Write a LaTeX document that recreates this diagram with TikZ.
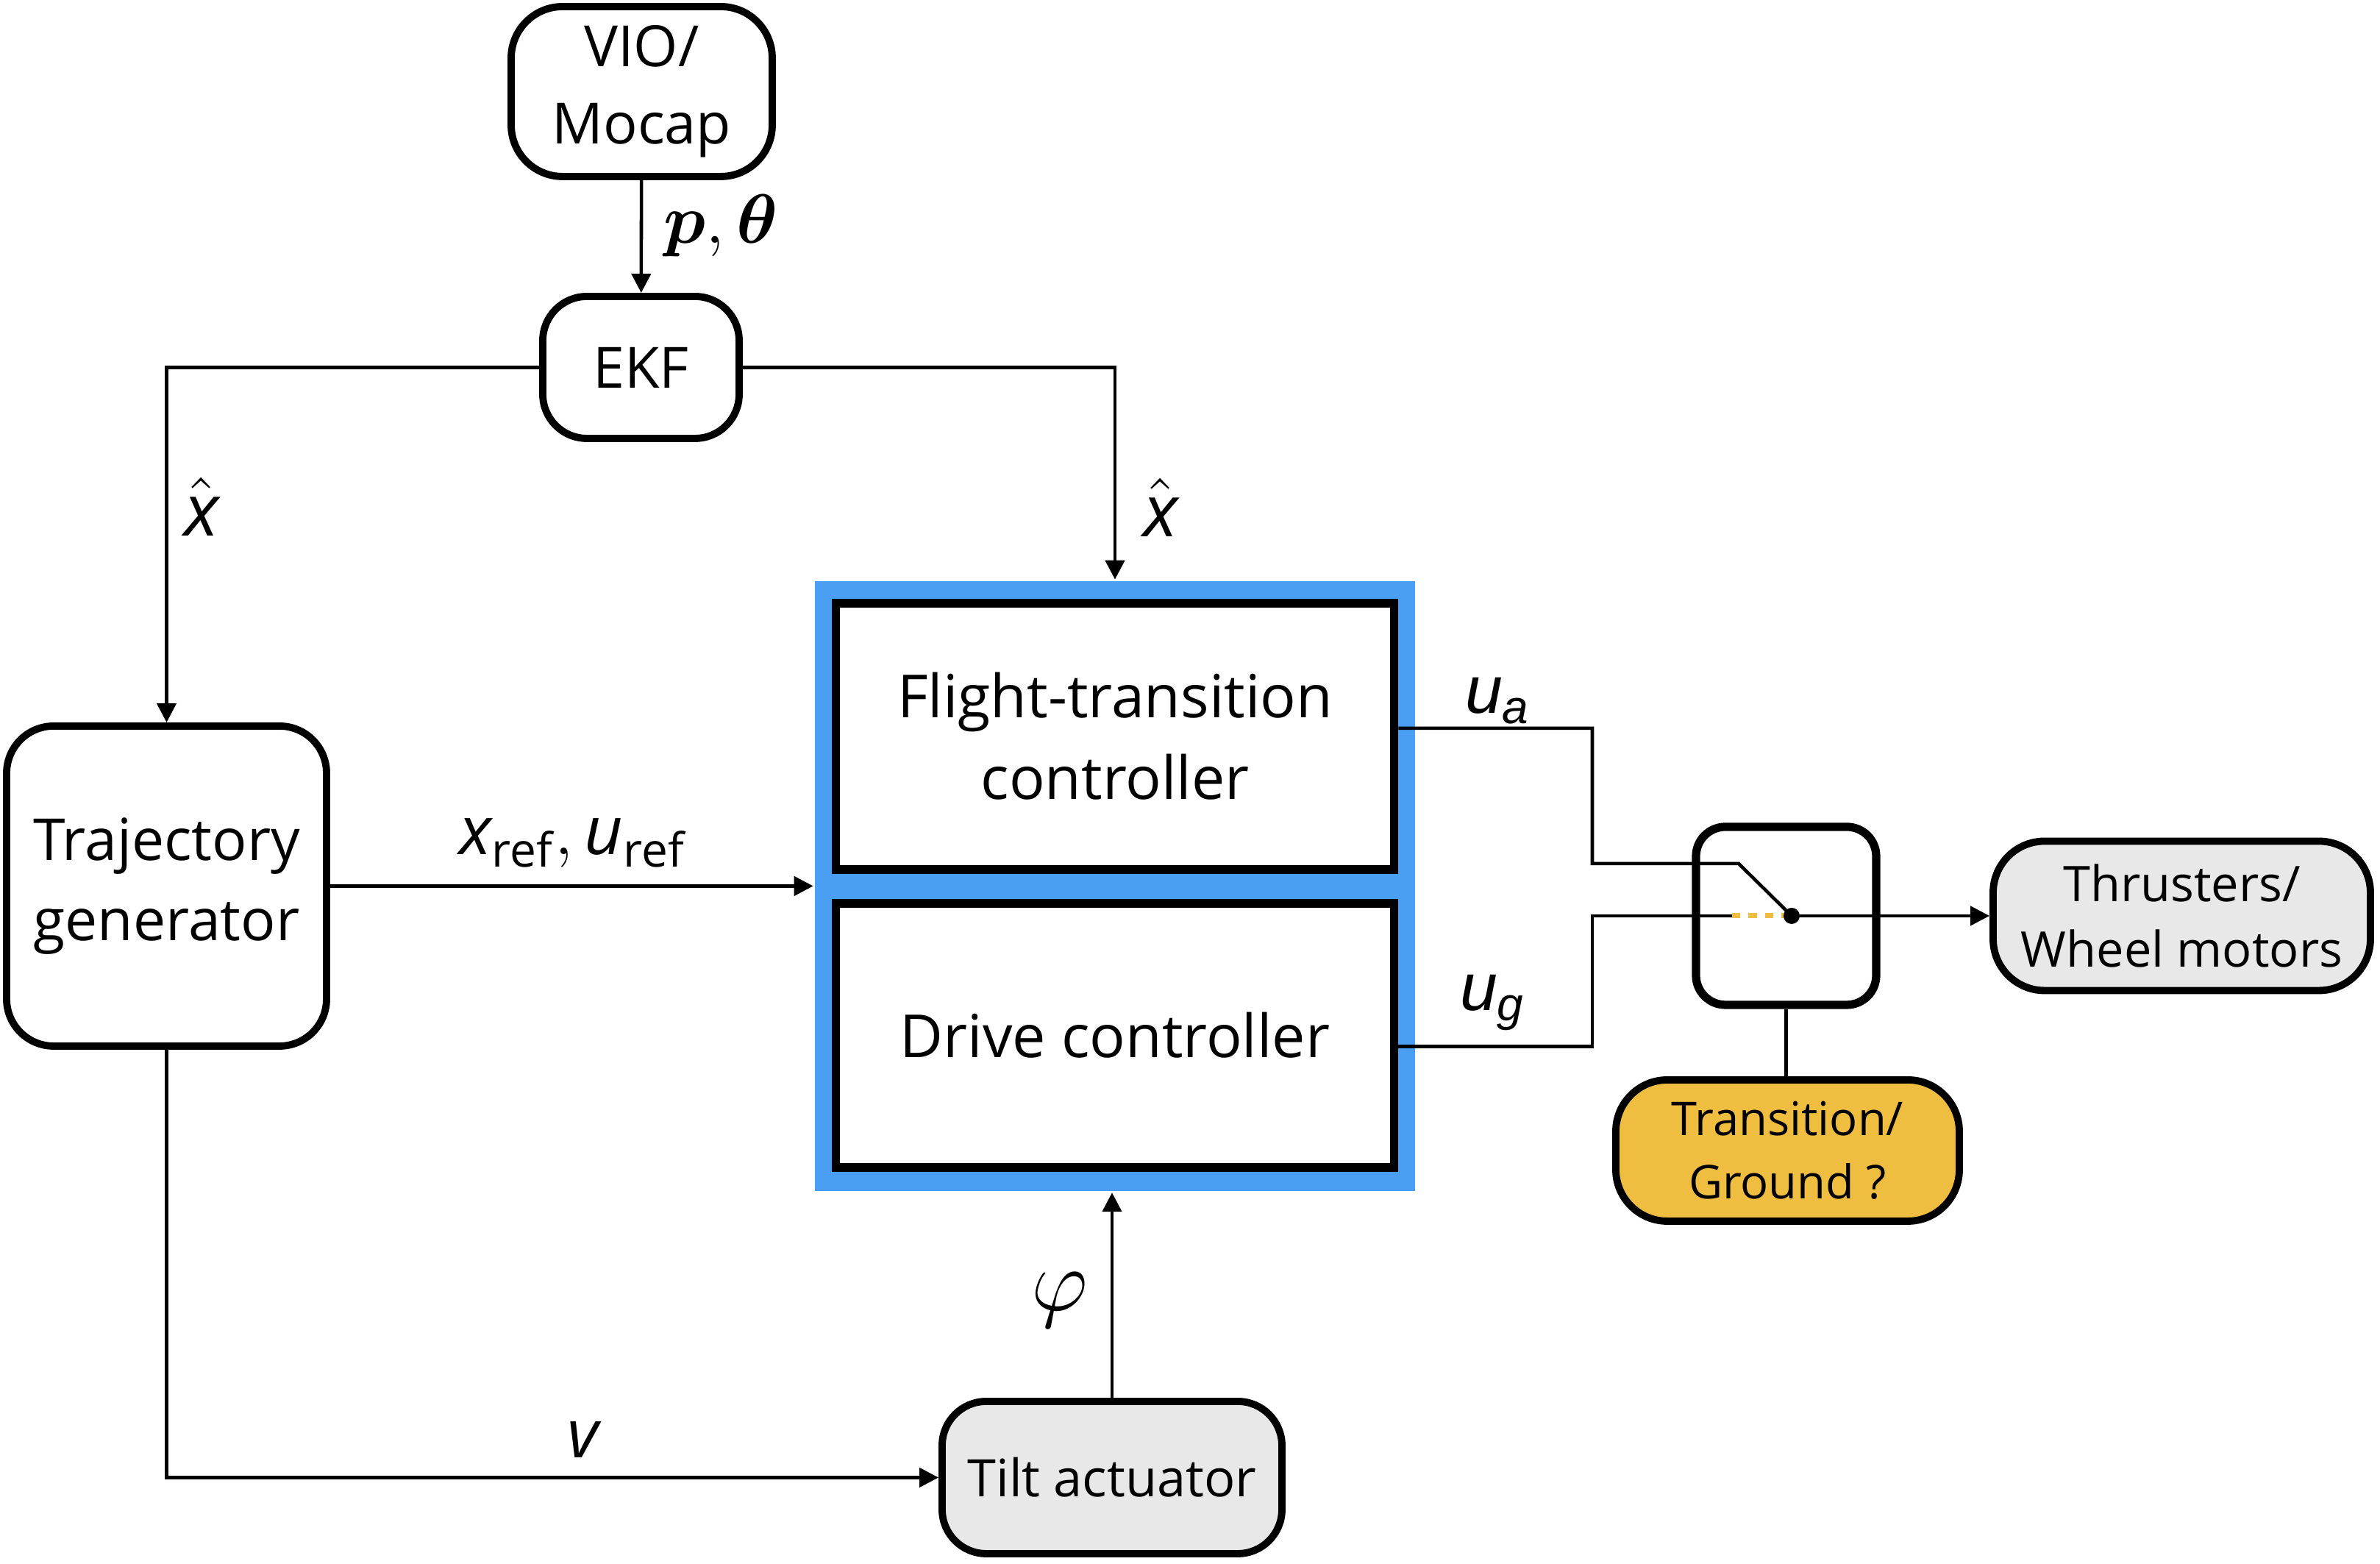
\RequirePackage{fix-cm}
\documentclass[tikz,border=0pt]{standalone}
\usepackage{amsmath}
\usepackage{fontspec}
\setmainfont{Open Sans}
\newfontfamily\arialfont{Liberation Sans}
\usetikzlibrary{arrows.meta}
\definecolor{ctrlblue}{RGB}{74,159,245}
\definecolor{modeyellow}{RGB}{239,189,64}
\definecolor{hwgray}{RGB}{232,232,232}

\begin{document}
\begin{tikzpicture}[x=1cm,y=1cm,>={Triangle[length=.13cm,width=.13cm]},line width=.65pt,
  rbox/.style={draw,line width=1.4pt,rounded corners=.3cm,align=center,inner sep=0pt,fill=white},
  ctrl/.style={draw,line width=1.7pt,fill=white,align=center,inner sep=0pt,minimum width=3.795cm,font=\fontsize{11.5}{15.8}\selectfont},
  lbl/.style={font=\fontsize{13}{15}\selectfont}]
  \useasboundingbox (0,0) rectangle (16.18,10.63);
  % blocks
  \node[rbox,rounded corners=.35cm,minimum width=1.775cm,minimum height=1.155cm,font=\fontsize{11}{15}\selectfont] (vio) at (4.3625,10.0075) {VIO/\\Mocap};
  \node[rbox,minimum width=1.335cm,minimum height=.965cm,font=\fontsize{11}{15}\selectfont] (ekf) at (4.3575,8.1325) {EKF};
  \node[rbox,rounded corners=.32cm,minimum width=2.175cm,minimum height=2.175cm,font=\fontsize{11.2}{15.5}\selectfont] (traj) at (1.1325,4.6075) {Trajectory\\generator};
  \node[fill=ctrlblue,inner sep=0pt,minimum width=4.08cm,minimum height=4.145cm] (ctrlgrp) at (7.58,4.6075) {};
  \node[ctrl,minimum height=1.81cm] (flight) at (7.58,5.625) {Flight-transition\\controller};
  \node[ctrl,minimum height=1.795cm] (drive) at (7.58,3.5925) {Drive controller};
  \node[rbox,fill=hwgray,minimum width=2.31cm,minimum height=1.035cm,font=\fontsize{10}{13}\selectfont] (tilt) at (7.56,.5875) {Tilt actuator};
  \node[draw,line width=1.6pt,rounded corners=.2cm,fill=white,minimum width=1.225cm,minimum height=1.21cm] (sw) at (12.1425,4.405) {};
  \node[rbox,fill=hwgray,rounded corners=.35cm,minimum width=2.565cm,minimum height=1.015cm,font=\fontsize{9.5}{12.6}\selectfont] (thr) at (14.8325,4.405) {Thrusters/\\Wheel motors};
  \node[rbox,fill=modeyellow,rounded corners=.35cm,minimum width=2.335cm,minimum height=.96cm,font=\fontsize{9}{12.2}\selectfont] (mode) at (12.1525,2.81) {Transition/\\Ground ?};
  % switch contacts
  \coordinate (pivot) at (12.18,4.405);
  \coordinate (ja) at (10.825,4.76);
  \coordinate (ka) at (11.82,4.76);
  \coordinate (jg) at (10.825,4.405);
  \coordinate (kg) at (11.775,4.405);
  % signals
  \draw[->] (vio) -- (ekf);
  \draw[->] (ekf.west) -| (traj.north);
  \draw[->] (ekf.east) -| (ctrlgrp.north);
  \draw[->] (traj.east) -- (ctrlgrp.west);
  \draw[->] (traj.south) |- (tilt.west);
  \draw[->] (tilt.north) -- (tilt.north |- ctrlgrp.south);
  \draw ([yshift=.055cm]flight.east) -| (ja) -- (ka) -- (pivot);
  \draw ([yshift=-.075cm]drive.east) -| (jg) -- (kg);
  \draw[modeyellow,line width=1pt,dash pattern=on 1.6pt off 1.6pt] (kg) -- (pivot);
  \draw[->] (pivot) -- (thr.west);
  \fill (pivot) circle (.055);
  \draw (sw.south) -- (sw.south |- mode.north);
  % labels
  \node[font=\fontsize{13.5}{15}\selectfont] (lpt) at (4.9,9.095) {$\boldsymbol{p},\boldsymbol{\theta}$};
  \node[lbl,font=\fontsize{14}{16}\selectfont] (lxl) at (1.37,7.185) {$\hat{\textit{x}}$};
  \node[lbl,font=\fontsize{14}{16}\selectfont] (lxr) at (7.89,7.18) {$\hat{\textit{x}}$};
  \node[lbl] (lref) at (3.895,4.9) {$\textit{x}_{\text{ref}},\textit{u}_{\text{ref}}$};
  \node[lbl,font=\arialfont\fontsize{13}{15}\selectfont] (lua) at (10.185,5.865) {$\textit{u}_{\textit{a}}$};
  \node[lbl,font=\arialfont\fontsize{13}{15}\selectfont] (lug) at (10.15,3.815) {$\textit{u}_{\textit{g}}$};
  \node[font=\fontsize{17}{19}\selectfont] (lphi) at (7.205,1.795) {$\varphi$};
  \node[lbl] (lv) at (3.975,.845) {\textit{v}};
\end{tikzpicture}
\end{document}
